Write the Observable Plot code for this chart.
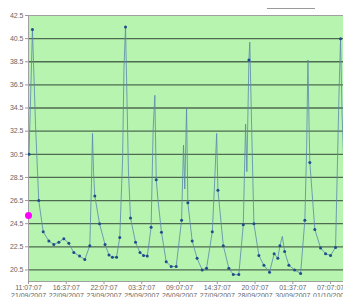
<!DOCTYPE html>
<html><head><meta charset="utf-8">
<script src="https://cdn.jsdelivr.net/npm/d3@7"></script>
<script src="https://cdn.jsdelivr.net/npm/@observablehq/plot@0.6"></script>
<style>
body{margin:0;background:#fff;overflow:hidden;}
#chart{position:relative;width:343px;height:297px;}
#legline{position:absolute;left:267px;top:8px;width:48px;height:0;border-top:1.5px solid #999;}
</style></head><body>
<div id="chart"><div id="legline"></div></div>
<script>
// hours elapsed since 21/09/2007 11:07:07
const hours = [0.4,3.1,5.5,8.0,11.5,15.9,19.8,23.7,27.6,31.5,35.4,39.9,44.0,47.9,49.2,50.0,50.8,51.8,55.5,59.8,62.9,65.6,68.8,71.3,73.5,74.6,75.8,77.0,78.1,79.7,83.6,87.1,89.9,92.8,95.8,97.4,98.7,99.8,101.2,103.9,107.6,111.5,115.4,119.6,121.1,122.1,123.5,124.5,127.9,131.7,135.7,139.1,143.6,145.4,147.0,148.0,152.2,156.5,160.0,164.3,167.8,169.6,170.6,172.2,172.9,174.3,176.1,180.0,183.9,188.3,191.9,194.8,196.4,198.3,200.1,203.4,207.9,212.6,215.9,217.3,218.3,219.2,219.8,223.7,228.2,232.1,236.0,239.9,242.5,243.8,245.0,246.2];
const values = [30.5,41.3,33,26.5,23.8,23.0,22.7,22.9,23.2,22.8,22.0,21.7,21.4,22.6,28,32.3,29,26.9,24.5,22.7,21.8,21.6,21.6,23.3,30,38,41.5,35,29,25.0,22.9,22.0,21.75,21.7,24.2,32.7,35.6,28.3,26.5,23.75,21.2,20.8,20.8,24.8,31.3,27.5,34.5,26.3,23.0,21.5,20.5,20.65,23.8,28,32.3,27.4,22.6,20.65,20.1,20.1,24.4,33.1,29,38.65,40.2,33,24.5,21.75,20.9,20.3,21.9,21.5,22.6,23.4,22.1,20.9,20.5,20.2,24.8,31,38.65,33,29.8,24.0,22.4,21.9,21.75,22.45,35.4,40.5,34,30];
const marker = [1,1,0,1,1,1,1,1,1,1,1,1,1,1,0,0,0,1,1,1,1,1,1,1,0,0,1,0,0,1,1,1,1,1,1,0,0,1,0,1,1,1,1,1,0,0,0,1,1,1,1,1,1,0,0,1,1,1,1,1,1,0,0,1,0,0,1,1,1,1,1,1,1,0,1,1,1,1,1,0,0,0,1,1,1,1,1,1,0,1,0,0];
const highlightHours = [0];
const highlightValues = [25.2];
const tickHours = [0,29.5,59,88.5,118,147.5,177,206.5,236];
const tickTimes = ["11:07:07","16:37:07","22:07:07","03:37:07","09:07:07","14:37:07","20:07:07","01:37:07","07:07:07"];
const tickDates = ["21/09/2007","22/09/2007","23/09/2007","25/09/2007","26/09/2007","27/09/2007","28/09/2007","30/09/2007","01/10/2007"];
const yTicks = [20.5,22.5,24.5,26.5,28.5,30.5,32.5,34.5,36.5,38.5,40.5,42.5];
const gridTicks = [20.5,22.5,24.5,26.5,28.5,30.5,32.5,34.5,36.5,38.5,40.5];

const t0 = Date.UTC(2007,8,21,11,7,7);
const toDate = h => new Date(t0 + h*3600e3);
const data = hours.map((h,i)=>({t:toDate(h), v:values[i], m:marker[i]}));
const hi = highlightHours.map((h,i)=>({t:toDate(h), v:highlightValues[i]}));
const tickDatesObj = tickHours.map(toDate);
const labelMap = new Map(tickDatesObj.map((d,i)=>[+d, tickTimes[i]+"\n"+tickDates[i]]));

const chart = Plot.plot({
  width:343, height:297,
  marginLeft:28, marginRight:0, marginTop:15, marginBottom:16,
  style:{fontFamily:"'Liberation Sans', Arial, sans-serif", fontSize:"7px", color:"#666", background:"transparent", overflow:"visible"},
  x:{type:"utc", domain:[toDate(0), toDate(246.1)], label:null},
  y:{domain:[19.5,42.5], label:null},
  marks:[
    Plot.frame({fill:"#b6f4b0", stroke:"none"}),
    Plot.ruleY(gridTicks, {stroke:"#4f6b4f", strokeWidth:1.3}),
    Plot.frame({stroke:"#a0a0a0"}),
    Plot.line(data, {x:"t", y:"v", stroke:"#5a88ad", strokeWidth:1, strokeOpacity:0.8, clip:true}),
    Plot.dot(data.filter(d=>d.m), {x:"t", y:"v", r:1.5, fill:"#1f4d8c", clip:true}),
    Plot.dot(hi, {x:"t", y:"v", r:3.5, fill:"#ff00ff"}),
    Plot.axisY(yTicks, {tickSize:3, tickPadding:2, tickFormat:d3.format(".1f"), stroke:"#999", label:null}),
    Plot.axisX(tickDatesObj, {tickSize:3, tickPadding:0, tickFormat:d=>labelMap.get(+d), lineHeight:1.1, stroke:"#999", label:null})
  ]
});
document.getElementById("chart").appendChild(chart);
</script>
</body></html>
